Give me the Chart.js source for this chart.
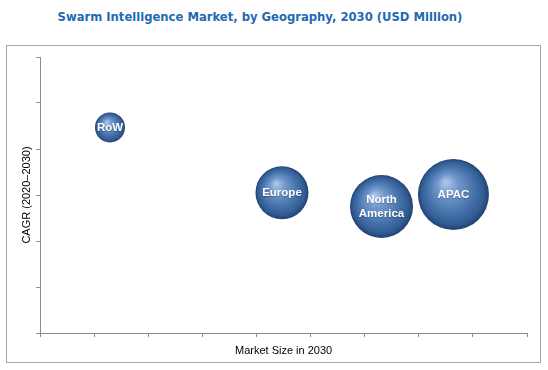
<!DOCTYPE html>
<html lang="en">
<head>
    <meta charset="UTF-8">
    <title>Swarm Intelligence Market, by Geography, 2030</title>
    <style>
        body {
            margin: 0;
            background: #fff;
            width: 548px;
            height: 370px;
            position: relative;
            overflow: hidden;
        }
        .title {
            position: absolute;
            left: 0;
            top: 10px;
            width: 520px;
            text-align: center;
            font-family: "DejaVu Sans", Verdana, sans-serif;
            font-weight: bold;
            font-size: 11.6px;
            color: #1f6ab3;
        }
        .frame {
            position: absolute;
            left: 6px;
            top: 45px;
            width: 533px;
            height: 316px;
            border: 1px solid #a6a6a6;
        }
        .frame canvas {
            display: block;
        }
    </style>
    <script src="https://cdn.jsdelivr.net/npm/chart.js"></script>
</head>
<body>
    <div class="title">Swarm Intelligence Market, by Geography, 2030 (USD Million)</div>
    <div class="frame">
        <canvas id="bubble-chart" width="533" height="316"></canvas>
    </div>

    <script>
        // values (axes carry no numbers, so units are tick steps)
        const regions = ['RoW', 'Europe', 'North America', 'APAC'];
        const labelLines = [['RoW'], ['Europe'], ['North', 'America'], ['APAC']];
        const marketSize = [1.29, 4.47, 6.31, 7.64];
        const cagr = [4.47, 3.05, 2.75, 3.01];
        const bubbleSize = [15, 26.5, 31.5, 35.5];

        const axisGray = '#8c8c8c';

        // sphere look: radial gradient centred on each bubble
        function sphereFill(context) {
            const chart = context.chart;
            const raw = context.raw;
            if (!raw || !chart.scales.x || !chart.chartArea) return '#3f6ea8';
            const x = chart.scales.x.getPixelForValue(raw.x);
            const y = chart.scales.y.getPixelForValue(raw.y);
            const r = raw.r;
            if (!isFinite(x) || !isFinite(y)) return '#3f6ea8';
            const g = chart.ctx.createRadialGradient(x - r * 0.22, y - r * 0.35, r * 0.05, x, y, r);
            g.addColorStop(0, '#a9c3e6');
            g.addColorStop(0.25, '#7299cd');
            g.addColorStop(0.6, '#4a76ae');
            g.addColorStop(0.88, '#305b93');
            g.addColorStop(1, '#21426f');
            return g;
        }

        const bubbleLabels = {
            id: 'bubbleLabels',
            afterDatasetsDraw(chart) {
                const ctx = chart.ctx;
                const meta = chart.getDatasetMeta(0);
                ctx.save();
                ctx.font = 'bold 11.5px "Liberation Sans", Arial, sans-serif';
                ctx.fillStyle = '#ffffff';
                ctx.textAlign = 'center';
                ctx.textBaseline = 'middle';
                ctx.shadowColor = 'rgba(0,0,0,0.3)';
                ctx.shadowBlur = 1;
                ctx.shadowOffsetY = 1;
                meta.data.forEach((el, i) => {
                    const lines = labelLines[i];
                    const lh = 14;
                    const start = el.y - (lines.length - 1) * lh / 2;
                    lines.forEach((t, j) => ctx.fillText(t, el.x, start + j * lh));
                });
                ctx.restore();
            }
        };

        new Chart(document.getElementById('bubble-chart'), {
            type: 'bubble',
            data: {
                datasets: [{
                    label: 'Geography',
                    data: regions.map((name, i) => ({ x: marketSize[i], y: cagr[i], r: bubbleSize[i] })),
                    backgroundColor: sphereFill,
                    borderWidth: 0,
                    hoverRadius: 0
                }]
            },
            options: {
                responsive: false,
                animation: false,
                layout: {
                    autoPadding: false,
                    padding: { left: 13, right: 13, top: 11, bottom: 4 }
                },
                plugins: {
                    legend: { display: false },
                    tooltip: { enabled: false }
                },
                scales: {
                    x: {
                        type: 'linear',
                        min: 0,
                        max: 9,
                        ticks: { stepSize: 1, display: false },
                        grid: { drawOnChartArea: false, drawTicks: true, tickLength: 4, color: axisGray },
                        border: { color: axisGray },
                        title: {
                            display: true,
                            text: 'Market Size in 2030',
                            color: '#000',
                            font: { family: '"Liberation Sans", Arial, sans-serif', size: 11 },
                            padding: { top: 7.4, bottom: 0.4 }
                        }
                    },
                    y: {
                        type: 'linear',
                        min: 0,
                        max: 6,
                        ticks: { stepSize: 1, display: false },
                        grid: { drawOnChartArea: false, drawTicks: true, tickLength: 4, color: axisGray },
                        border: { color: axisGray },
                        title: {
                            display: true,
                            text: 'CAGR (2020–2030)',
                            color: '#000',
                            font: { family: '"Liberation Sans", Arial, sans-serif', size: 11 },
                            padding: { top: 0, bottom: 3 }
                        }
                    }
                }
            },
            plugins: [bubbleLabels]
        });
    </script>
</body>
</html>
